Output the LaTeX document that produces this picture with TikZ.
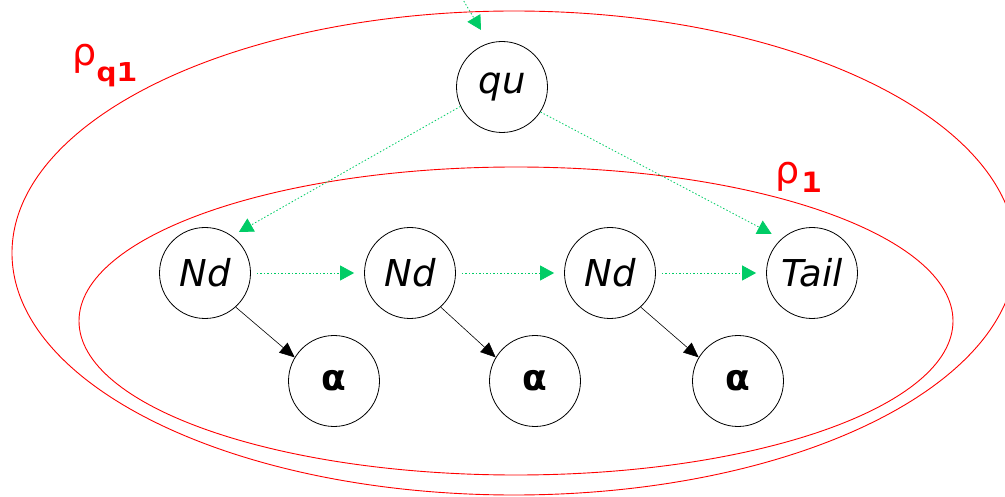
\documentclass[tikz,border=0pt]{standalone}
\usepackage{fontspec}
\setmainfont{DejaVu Sans}
\newfontfamily\monobold{DejaVu Sans Mono}
\usetikzlibrary{arrows.meta}
\definecolor{grn}{HTML}{00CC66}
\definecolor{rd}{HTML}{FF0000}
\tikzset{
  nd/.style={circle,draw,line width=0.8pt,minimum size=91pt,inner sep=0pt,font=\fontsize{37}{40}\selectfont\itshape},
  al/.style={circle,draw,line width=0.8pt,minimum size=91pt,inner sep=0pt,font=\fontsize{36}{40}\selectfont\bfseries},
  garr/.style={grn,line width=0.8pt,dash pattern=on 1.5pt off 2pt,-{Triangle[length=14pt,width=15pt]}},
  barr/.style={black,line width=0.6pt,-{Triangle[length=15pt,width=13pt]}},
  reg/.style={rd,line width=0.9pt},
  lab/.style={rd,inner sep=0pt,anchor=base west}
}
\begin{document}
\begin{tikzpicture}[x=1pt,y=-1pt]
\useasboundingbox (0,0) rectangle (1005,497);
\draw[reg] (514,253) ellipse [x radius=502,y radius=242];
\draw[reg] (516,321) ellipse [x radius=437,y radius=154];
\node[lab] (rq1) at (72,66) {\fontsize{38}{40}\selectfont ρ\raisebox{-16pt}{\scalebox{1.3}[1]{\monobold\fontsize{26}{28}\selectfont\bfseries q1}}};
\node[lab] (r1) at (775,184) {\fontsize{38}{40}\selectfont ρ\kern2pt\raisebox{-9pt}{\scalebox{1.2}[1]{\monobold\fontsize{28}{30}\selectfont\bfseries 1}}};
\node[nd] (qu) at (502,87) {qu};
\node[nd] (n1) at (205,273) {Nd};
\node[nd] (n2) at (410,273) {Nd};
\node[nd] (n3) at (610,273) {Nd};
\node[nd] (tail) at (812,273) {Tail};
\node[al] (a1) at (334,381) {α};
\node[al] (a2) at (535,381) {α};
\node[al] (a3) at (738,381) {α};
\coordinate (top) at (462,-2);
\coordinate (topend) at (481,30);
\draw[garr] (top) -- (topend);
\draw[garr,shorten >=8pt] (qu.205) -- (n1.54);
\draw[garr,shorten >=11pt] (qu.-33) -- (tail.132);
\draw[garr,shorten <=6pt,shorten >=10pt] (n1) -- (n2);
\draw[garr,shorten <=6pt,shorten >=10pt] (n2) -- (n3);
\draw[garr,shorten <=6pt,shorten >=10pt] (n3) -- (tail);
\draw[barr] (n1.-48) -- (a1.149);
\draw[barr] (n2.-48) -- (a2.149);
\draw[barr] (n3.-48) -- (a3.149);
\end{tikzpicture}
\end{document}
